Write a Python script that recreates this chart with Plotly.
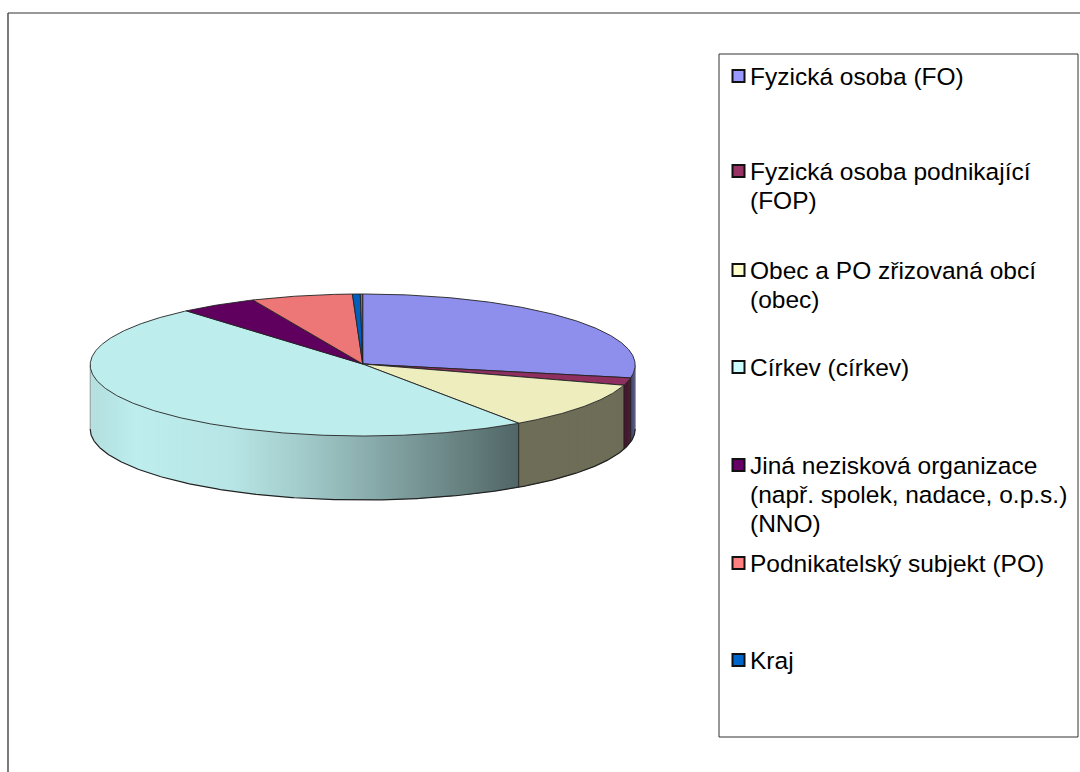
import numpy as np
import plotly.graph_objects as go

# ---- data (percent shares) ----
labels = ["Fyzická osoba (FO)", "Fyzická osoba podnikající<br>(FOP)",
          "Obec a PO zřizovaná obcí<br>(obec)", "Církev (církev)",
          "Jiná nezisková organizace<br>(např. spolek, nadace, o.p.s.)<br>(NNO)",
          "Podnikatelský subjekt (PO)", "Kraj", ""]
values = [27.9, 1.7, 10.7, 48.5, 4.6, 6.0, 0.46, 0.14]
base_colors = ["#9999FF", "#993366", "#FFFFCC", "#CCFFFF", "#660066", "#FF8080", "#0066CC", "#8A7A90"]
legend_y = [76, 171, 270, 367, 465, 563, 660]

# ---- geometry of the tilted disc ----
CX, CY, RX, RY, DEPTH = 362.7, 365.0, 272.5, 71.0, 64.0
APEX_Y = 364.0
TOP_SHADE = 0.93
EDGE = "#222222"


def rgb(hex_color, f=1.0):
    c = [int(hex_color[i:i + 2], 16) for i in (1, 3, 5)]
    return "rgb(%d,%d,%d)" % tuple(min(255, round(v * f)) for v in c)


def ex(t):
    return CX + RX * np.sin(np.radians(t))


def ey(t):
    return CY - RY * np.cos(np.radians(t))


def side_shade(x):
    return np.interp(x, [90, 135, 230, 300, 400, 518, 519, 632, 636],
                     [0.87, 0.93, 0.90, 0.80, 0.62, 0.40, 0.43, 0.43, 0.50])


fig = go.Figure()
starts = np.cumsum([0] + values[:-1]) * 3.6
ends = np.cumsum(values) * 3.6
plain = dict(mode="lines", hoverinfo="skip", showlegend=False)

# side wall: overlapping strips painted in order, front half of the disc only
for a, b, col in zip(starts, ends, base_colors):
    lo, hi = max(a, 90.0), min(b, 270.0)
    if hi <= lo:
        continue
    edges = np.linspace(lo, hi, max(2, int((hi - lo) / 0.5) + 1))
    for i in range(len(edges) - 1):
        t0, t1 = edges[i], edges[min(i + 2, len(edges) - 1)]
        tm = np.array([t0, (t0 + t1) / 2, t1])
        c = rgb(col, side_shade((ex(edges[i]) + ex(edges[i + 1])) / 2))
        fig.add_trace(go.Scatter(x=np.r_[ex(tm), ex(tm[::-1]), ex(tm[0])],
                                 y=np.r_[ey(tm), ey(tm[::-1]) + DEPTH, ey(tm[0])],
                                 fill="toself", fillcolor=c, line=dict(width=0), **plain))

# side wall outlines
arc = np.linspace(90, 270, 361)
fig.add_trace(go.Scatter(x=ex(arc), y=ey(arc) + DEPTH, line=dict(color=EDGE, width=1.2), **plain))
for t in [90.0, 270.0] + [e for e in ends if 90 < e < 270]:
    width = 1.0 if 90 < t < 270 else 0.7
    colr = EDGE if 90 < t < 270 else "#777777"
    fig.add_trace(go.Scatter(x=[ex(t), ex(t)], y=[ey(t), ey(t) + DEPTH], line=dict(color=colr, width=width), **plain))

# top slices
for a, b, col in zip(starts, ends, base_colors):
    t = np.linspace(a, b, max(2, int(b - a) * 2 + 2))
    fig.add_trace(go.Scatter(x=np.r_[CX, ex(t), CX], y=np.r_[APEX_Y, ey(t), APEX_Y],
                             fill="toself", fillcolor=rgb(col, TOP_SHADE),
                             line=dict(color=EDGE, width=0.9), **plain))

# legend markers
fig.add_trace(go.Scatter(x=[738.5] * 7, y=legend_y, mode="markers", hoverinfo="skip", showlegend=False,
                         marker=dict(symbol="square", size=12, color=base_colors[:7],
                                     line=dict(color="#111111", width=2))))

# legend text
annotations = []
for lab, y0 in zip(labels[:7], legend_y):
    for i, line in enumerate(lab.split("<br>")):
        annotations.append(dict(x=748.5, y=y0 + i * 29, xref="x", yref="y", text=line, showarrow=False,
                                xanchor="left", yanchor="middle", align="left", borderpad=0,
                                font=dict(family="Liberation Sans", size=24.5, color="#000000")))

frame = dict(color="#333333", width=1)
shapes = [
    dict(type="line", x0=8, y0=13, x1=1080, y1=13, line=frame, layer="below"),
    dict(type="line", x0=8, y0=13, x1=8, y1=772, line=dict(color="#444444", width=1.4), layer="below"),
    dict(type="rect", x0=719, y0=54, x1=1078, y1=737, line=frame, layer="below"),
]

fig.update_layout(
    width=1080, height=772, autosize=False, margin=dict(l=0, r=0, t=0, b=0),
    paper_bgcolor="white", plot_bgcolor="white", showlegend=False,
    xaxis=dict(range=[0, 1080], visible=False, fixedrange=True),
    yaxis=dict(range=[772, 0], visible=False, fixedrange=True),
    annotations=annotations, shapes=shapes,
)
fig.write_html("out.html", config={"displayModeBar": False},
               post_script="document.body.style.margin='0';document.body.style.overflow='hidden';")
